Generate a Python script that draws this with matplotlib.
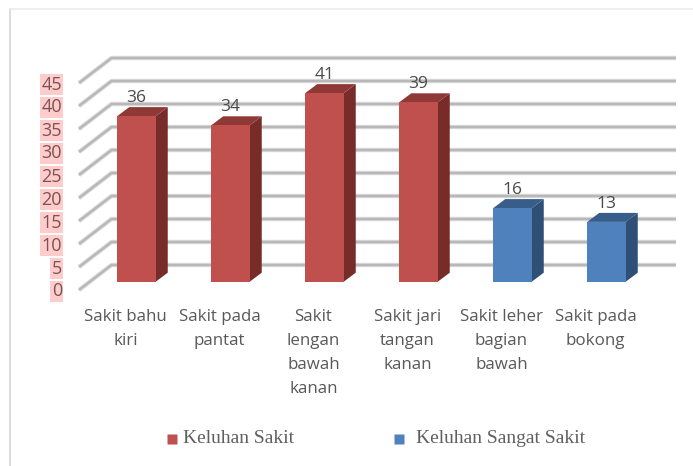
#!/usr/bin/env python3

import matplotlib.pyplot as plt
from matplotlib.patches import Polygon

categories = [
    "Sakit bahu\nkiri",
    "Sakit pada\npantat",
    "Sakit\nlengan\nbawah\nkanan",
    "Sakit jari\ntangan\nkanan",
    "Sakit leher\nbagian\nbawah",
    "Sakit pada\nbokong",
]
values = [36, 34, 41, 39, 16, 13]
legend_names = ["Keluhan Sakit", "Keluhan Sangat Sakit"]
series_index = [0, 0, 0, 0, 1, 1]
y_ticks = [0, 5, 10, 15, 20, 25, 30, 35, 40, 45]

FRONT = ["#c0504d", "#4f81bd"]
TOP = ["#8f3936", "#385d8a"]
SIDE = ["#772c2a", "#2f4f76"]

W, H = 693, 466
PX_X = 94.0  # pixels per category
PX_Y = 4.6  # pixels per unit
X0 = 136.5  # pixel of first category
Y0 = 281.7  # pixel of value 0 on the bar plane

fig = plt.figure(figsize=(W / 100, H / 100), dpi=100)
ax = fig.add_axes([0, 0, 1, 1])
ax.set_xlim(-X0 / PX_X, (W - X0) / PX_X)
ax.set_ylim((Y0 - H) / PX_Y, Y0 / PX_Y)
ax.axis("off")


def dx(px):
    return px / PX_X


def dy(px):
    return px / PX_Y


# frame of the chart area
ax.plot([dx(9.5 - X0), dx(9.5 - X0)], [dy(Y0 - H), dy(Y0 - 8.5)], color="#dcdcdc", lw=1.4)
ax.plot([dx(9.5 - X0), dx(W - X0)], [dy(Y0 - 8.5), dy(Y0 - 8.5)], color="#ececec", lw=1.2)

# gridlines: short slanted part on the floor, long part on the back wall
for v in y_ticks:
    xs = [dx(79 - X0), dx(111.5 - X0), dx(676 - X0)]
    ys = [v + dy(Y0 - 290), v + dy(Y0 - 265), v + dy(Y0 - 265)]
    ax.plot(xs, ys, color="#dedede", lw=3.2, zorder=1, solid_capstyle="butt")
    ax.plot(xs, ys, color="#b8b8b8", lw=1.8, zorder=1.1, solid_capstyle="butt")

    ax.text(dx(62 - X0), v + dy(Y0 - 291.5), str(v), ha="right", va="center",
            fontsize=13, family="Open Sans", color="#7d5252", zorder=5,
            bbox=dict(facecolor="#ffcccc", edgecolor="none", pad=1.0))

# bars with their side and top faces
bar_w = 38.5 / PX_X
depth_x = dx(12)
depth_y = dy(9)
for i, (v, s) in enumerate(zip(values, series_index)):
    ax.bar(i, v, width=bar_w, color=FRONT[s], edgecolor="none", zorder=3)
    left, right = i - bar_w / 2, i + bar_w / 2
    ax.add_patch(Polygon([(right, 0), (right + depth_x, depth_y), (right + depth_x, v + depth_y), (right, v)],
                         facecolor=SIDE[s], edgecolor="none", zorder=2.9))
    ax.add_patch(Polygon([(left, v), (left + depth_x, v + depth_y), (right + depth_x, v + depth_y), (right, v)],
                         facecolor=TOP[s], edgecolor="none", zorder=2.9))
    ax.text(i, v + dy(18), str(v), ha="center", va="center", fontsize=12.5,
            family="Open Sans", color="#4a4a4a", zorder=6)

# category labels
for i, name in enumerate(categories):
    ax.text(i - dx(11), dy(Y0 - 309), name, ha="center", va="top", fontsize=12.2,
            family="Open Sans", color="#595959", linespacing=1.67)

# legend
for name, s, mx, tx in zip(legend_names, [0, 1], [171.5, 398.5], [183, 416]):
    ax.plot(dx(mx - X0), dy(Y0 - 438.5), "s", ms=7.8, color=FRONT[s], mec="none")
    ax.text(dx(tx - X0), dy(Y0 - 438), name, ha="left", va="center", fontsize=14,
            family="Liberation Serif", color="#5f5f5f")

plt.savefig("out.png", dpi=100)
plt.close()
